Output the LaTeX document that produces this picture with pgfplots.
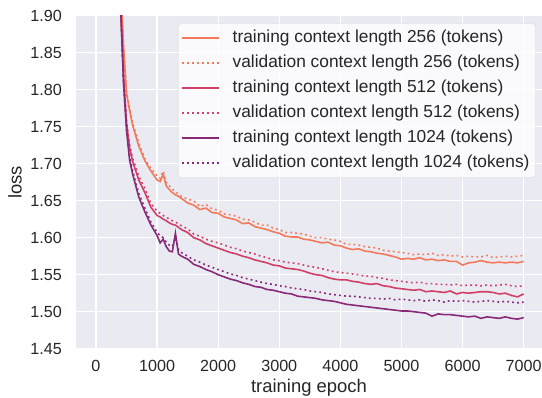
\documentclass[border=0pt]{standalone}
\usepackage{pgfplots}
\pgfplotsset{compat=1.18}
\usepackage{pgfplotstable}
\usepackage{fontspec}
\setmainfont{Liberation Sans}
\definecolor{bg}{HTML}{EAEAF2}
\definecolor{txt}{HTML}{262626}
\definecolor{cA}{HTML}{F27A5B}
\definecolor{cB}{HTML}{D13F67}
\definecolor{cC}{HTML}{882A77}
\pgfplotstableread{
ep t256 v256 t512 v512 t1024 v1024
300 2.40 2.40 2.30 2.30 2.30 2.30
350 2.10 2.10 2.05 2.05 2.05 2.05
400 1.95 1.95 1.92 1.92 1.92 1.92
450 1.86 1.86 1.82 1.82 1.81 1.81
500 1.795 1.797 1.755 1.758 1.745 1.748
550 1.772 1.775 1.722 1.725 1.705 1.710
600 1.752 1.755 1.703 1.708 1.686 1.690
700 1.724 1.728 1.678 1.683 1.655 1.660
800 1.704 1.707 1.661 1.667 1.635 1.640
900 1.690 1.693 1.641 1.646 1.617 1.621
1000 1.678 1.684 1.630 1.636 1.603 1.607
1050 1.676 1.680 1.628 1.633 1.593 1.603
1100 1.686 1.690 1.625 1.630 1.598 1.600
1150 1.670 1.675 1.623 1.628 1.588 1.594
1200 1.665 1.670 1.620 1.625 1.582 1.590
1250 1.661 1.666 1.618 1.623 1.581 1.588
1300 1.658 1.662 1.617 1.621 1.606 1.600
1350 1.656 1.659 1.614 1.619 1.578 1.584
1400 1.653 1.656 1.611 1.616 1.575 1.580
1500 1.647 1.652 1.607 1.612 1.571 1.575
1600 1.644 1.650 1.600 1.605 1.564 1.570
1700 1.638 1.642 1.597 1.602 1.561 1.567
1800 1.640 1.645 1.592 1.598 1.557 1.563
1900 1.634 1.639 1.589 1.595 1.554 1.560
2000 1.633 1.637 1.586 1.593 1.550 1.557
2100 1.628 1.632 1.583 1.590 1.547 1.554
2200 1.626 1.631 1.580 1.587 1.544 1.551
2300 1.624 1.629 1.578 1.585 1.542 1.549
2400 1.619 1.625 1.575 1.582 1.539 1.546
2500 1.620 1.624 1.573 1.580 1.537 1.544
2600 1.615 1.621 1.570 1.578 1.534 1.542
2700 1.613 1.617 1.568 1.575 1.533 1.540
2800 1.611 1.617 1.566 1.573 1.530 1.538
2900 1.608 1.613 1.563 1.570 1.529 1.537
3000 1.606 1.611 1.562 1.569 1.527 1.535
3100 1.602 1.607 1.559 1.567 1.525 1.534
3200 1.601 1.607 1.558 1.566 1.524 1.532
3300 1.601 1.606 1.557 1.565 1.521 1.531
3400 1.598 1.605 1.555 1.563 1.520 1.530
3500 1.597 1.602 1.552 1.561 1.519 1.528
3600 1.595 1.600 1.550 1.560 1.518 1.527
3700 1.593 1.600 1.549 1.558 1.516 1.526
3800 1.594 1.598 1.546 1.556 1.515 1.524
3900 1.590 1.597 1.544 1.554 1.514 1.523
4000 1.589 1.595 1.543 1.553 1.512 1.522
4100 1.586 1.591 1.543 1.552 1.510 1.521
4200 1.584 1.591 1.541 1.551 1.509 1.521
4300 1.585 1.590 1.540 1.550 1.508 1.520
4400 1.582 1.588 1.538 1.548 1.507 1.519
4500 1.581 1.587 1.537 1.548 1.506 1.518
4600 1.579 1.586 1.538 1.546 1.505 1.518
4700 1.578 1.583 1.535 1.545 1.504 1.517
4800 1.576 1.582 1.534 1.543 1.503 1.518
4900 1.574 1.581 1.532 1.542 1.502 1.516
5000 1.571 1.580 1.531 1.541 1.501 1.517
5100 1.572 1.579 1.530 1.540 1.501 1.516
5200 1.571 1.577 1.529 1.539 1.500 1.515
5300 1.573 1.578 1.530 1.540 1.499 1.516
5400 1.570 1.577 1.527 1.538 1.498 1.514
5500 1.571 1.579 1.528 1.538 1.494 1.516
5600 1.569 1.576 1.527 1.537 1.497 1.515
5700 1.570 1.577 1.526 1.537 1.496 1.513
5800 1.568 1.575 1.528 1.536 1.496 1.515
5900 1.568 1.576 1.524 1.537 1.495 1.514
6000 1.563 1.574 1.526 1.535 1.494 1.515
6100 1.566 1.575 1.525 1.536 1.493 1.514
6200 1.567 1.574 1.526 1.536 1.494 1.513
6300 1.569 1.574 1.527 1.535 1.491 1.514
6400 1.567 1.576 1.527 1.536 1.493 1.515
6500 1.566 1.573 1.526 1.535 1.492 1.514
6600 1.567 1.574 1.524 1.536 1.491 1.513
6700 1.566 1.575 1.525 1.537 1.493 1.514
6800 1.567 1.574 1.522 1.535 1.491 1.513
6900 1.566 1.575 1.520 1.534 1.490 1.512
7000 1.568 1.576 1.524 1.535 1.492 1.513
}\losses
\begin{document}
\begin{tikzpicture}
\path[use as bounding box] (-76bp,-49.3bp) rectangle (466bp,348.7bp);
\begin{axis}[
  scale only axis, width=466bp, height=333bp,
  xmin=-327, xmax=7300, ymin=1.45, ymax=1.90,
  xtick={0,1000,2000,3000,4000,5000,6000,7000},
  ytick={1.45,1.50,1.55,1.60,1.65,1.70,1.75,1.80,1.85,1.90},
  /pgf/number format/assume math mode=true,
  x tick label style={/pgf/number format/1000 sep={}, yshift=-11bp},
  y tick label style={/pgf/number format/fixed, /pgf/number format/fixed zerofill, /pgf/number format/precision=2, xshift=-14bp},
  tick label style={font=\fontsize{16.2}{20}\selectfont, text=txt, inner sep=0pt},
  major tick length=0pt,
  axis line style={draw=none},
  grid=major, major grid style={white, line width=1.3bp},
  axis background/.style={fill=bg},
  xlabel={training epoch}, ylabel={loss},
  every axis x label/.style={at={(axis description cs:0.5,-0.133)}, anchor=base, font=\fontsize{18.5}{22}\selectfont, text=txt, inner sep=0pt},
  every axis y label/.style={at={(axis description cs:-0.1159,0.5)}, anchor=south, rotate=90, font=\fontsize{18.5}{22}\selectfont, text=txt, inner sep=0pt},
  legend cell align=left,
  legend style={at={(1,1)}, anchor=north east, xshift=-6.3bp, yshift=-7.6bp,
    fill=white, fill opacity=0.8, text opacity=1, draw opacity=1, draw=black!17,
    rounded corners=3bp, font=\fontsize{17.4}{20}\selectfont, text=txt,
    inner xsep=3bp, inner ysep=2bp, row sep=0.6bp,
    nodes={inner ysep=4bp, inner xsep=3bp, text height=12.5bp, text depth=4bp}},
  legend image code/.code={\draw[#1] (0bp,0bp) -- (37bp,0bp); \path (47bp,0bp);},
]
\addplot[cA, line width=1.6bp] table[x=ep, y=t256]{\losses};
\addlegendentry{training context length 256 (tokens)}
\addplot[cA, line width=1.6bp, dash pattern=on 1.8bp off 3.2bp] table[x=ep, y=v256]{\losses};
\addlegendentry{validation context length 256 (tokens)}
\addplot[cB, line width=1.6bp] table[x=ep, y=t512]{\losses};
\addlegendentry{training context length 512 (tokens)}
\addplot[cB, line width=1.6bp, dash pattern=on 1.8bp off 3.2bp] table[x=ep, y=v512]{\losses};
\addlegendentry{validation context length 512 (tokens)}
\addplot[cC, line width=1.6bp] table[x=ep, y=t1024]{\losses};
\addlegendentry{training context length 1024 (tokens)}
\addplot[cC, line width=1.6bp, dash pattern=on 1.8bp off 3.2bp] table[x=ep, y=v1024]{\losses};
\addlegendentry{validation context length 1024 (tokens)}
\end{axis}
\end{tikzpicture}
\end{document}
